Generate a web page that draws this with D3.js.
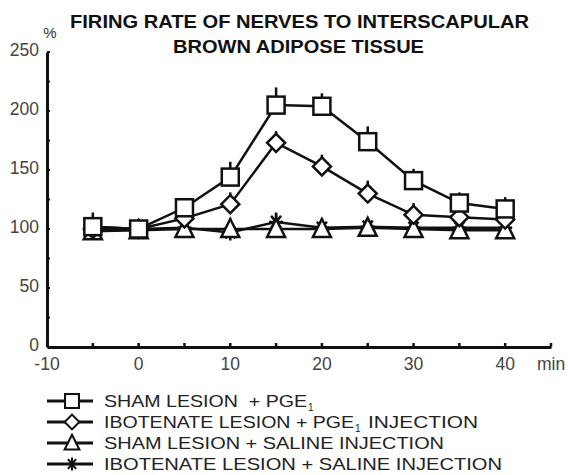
<!DOCTYPE html>
<html>
<head>
<meta charset="utf-8">
<script src="https://cdn.jsdelivr.net/npm/d3@7"></script>
<style>
  body { margin: 0; background: #fff; }
  svg { font-family: "Liberation Sans", Arial, sans-serif; }
</style>
</head>
<body>
<div id="chart"></div>
<script>
// time in minutes
const times = [-5, 0, 5, 10, 15, 20, 25, 30, 35, 40];

// firing rate (% of baseline) and upper error for each group
const shamPge = [102, 100, 118, 144, 205, 204, 174, 141, 122, 117];
const shamPgeErr = [6, 4, 8, 13, 15, 11, 13, 10, 9, 10];
const iboPge = [100, 100, 109, 121, 173, 153, 130, 112, 110, 108];
const iboPgeErr = [4, 3, 5, 10, 10, 10, 11, 10, 6, 6];
const shamSaline = [98, 99, 100, 100, 100, 100, 101, 100, 99, 99];
const shamSalineErr = [3, 3, 3, 4, 3, 3, 3, 3, 3, 3];
const iboSaline = [102, 100, 101, 97, 106, 101, 102, 101, 101, 101];
const iboSalineErr = [12, 4, 4, 12, 8, 8, 5, 6, 6, 6];

const xTicks = [-10, 0, 10, 20, 30, 40];
const yTicks = [0, 50, 100, 150, 200, 250];

const series = [
  { name: 'sham-pge', values: shamPge, err: shamPgeErr, marker: 'square' },
  { name: 'ibo-pge', values: iboPge, err: iboPgeErr, marker: 'diamond' },
  { name: 'sham-saline', values: shamSaline, err: shamSalineErr, marker: 'triangle' },
  { name: 'ibo-saline', values: iboSaline, err: iboSalineErr, marker: 'star' }
];

const W = 568, H = 475;
const svg = d3.select('#chart').append('svg')
  .attr('width', W)
  .attr('height', H);

const x = d3.scaleLinear().domain([-10, 45]).range([47, 551]);
const y = d3.scaleLinear().domain([0, 250]).range([347, 52]);

// marker drawing
function drawMarker(g, type, cx, cy, k = 1) {
  const s = g.append('g').attr('transform', `translate(${cx},${cy}) scale(${k})`)
    .attr('fill', 'none').attr('stroke', '#111').attr('stroke-width', 2.5);
  if (type === 'square') {
    s.append('rect').attr('x', -8.5).attr('y', -8.5).attr('width', 17).attr('height', 17).attr('fill', '#fff');
  } else if (type === 'diamond') {
    s.append('path').attr('d', 'M0,-9L9,0L0,9L-9,0Z').attr('fill', '#fff');
  } else if (type === 'triangle') {
    s.append('path').attr('d', 'M0,-10L9,8L-9,8Z').attr('fill', '#fff');
  } else {
    s.append('path').attr('d', 'M-7,0H7M-5,-6L5,6M5,-6L-5,6M0,-8V8');
  }
}

// titles
svg.append('text').attr('x', 70).attr('y', 28)
  .attr('textLength', 459).attr('lengthAdjust', 'spacingAndGlyphs')
  .attr('font-size', 18.5).attr('font-weight', 'bold').attr('fill', '#111')
  .text('FIRING RATE OF NERVES TO INTERSCAPULAR');
svg.append('text').attr('x', 173).attr('y', 53)
  .attr('textLength', 251).attr('lengthAdjust', 'spacingAndGlyphs')
  .attr('font-size', 18.5).attr('font-weight', 'bold').attr('fill', '#111')
  .text('BROWN ADIPOSE TISSUE');
svg.append('text').attr('x', 50).attr('y', 38).attr('text-anchor', 'middle')
  .attr('font-size', 15).attr('fill', '#333').text('%');

// axes
const yAxis = d3.axisLeft(y).tickValues(d3.range(0, 251, 25)).tickSize(0).tickFormat('');
const xAxis = d3.axisBottom(x).tickValues(d3.range(-10, 46, 5)).tickSize(0).tickFormat('');

const gy = svg.append('g').attr('transform', `translate(${x(-10)},0)`).call(yAxis);
const gx = svg.append('g').attr('transform', `translate(0,${y(0)})`).call(xAxis);
[gy, gx].forEach(g => g.select('.domain').attr('stroke', '#111').attr('stroke-width', 3));

// small tick marks
svg.append('g').selectAll('line').data(d3.range(25, 251, 25)).join('line')
  .attr('x1', x(-10)).attr('x2', x(-10) + 3)
  .attr('y1', d => y(d)).attr('y2', d => y(d))
  .attr('stroke', '#111').attr('stroke-width', 2);
svg.append('g').selectAll('line').data(d3.range(-5, 46, 5)).join('line')
  .attr('x1', d => x(d)).attr('x2', d => x(d))
  .attr('y1', y(0)).attr('y2', y(0) - 4)
  .attr('stroke', '#111').attr('stroke-width', 2.5);

// tick labels
svg.append('g').selectAll('text').data(yTicks).join('text')
  .attr('x', 39).attr('y', d => y(d) - 2).attr('dy', '0.35em')
  .attr('text-anchor', 'end').attr('font-size', 17.5).attr('fill', '#444')
  .text(d => d);
svg.append('g').selectAll('text').data(xTicks).join('text')
  .attr('x', d => x(d)).attr('y', 370)
  .attr('text-anchor', 'middle').attr('font-size', 17.5).attr('fill', '#444')
  .text(d => d);
svg.append('text').attr('x', 537).attr('y', 370)
  .attr('font-size', 17.5).attr('fill', '#444').text('min');

// series
const line = d3.line().x((d, i) => x(times[i])).y(d => y(d));
series.slice().reverse().forEach(s => {
  const g = svg.append('g').attr('class', s.name);
  g.append('path').datum(s.values).attr('d', line)
    .attr('fill', 'none').attr('stroke', '#111').attr('stroke-width', 2.5);
  g.selectAll('line.err').data(s.values).join('line').attr('class', 'err')
    .attr('x1', (d, i) => x(times[i])).attr('x2', (d, i) => x(times[i]))
    .attr('y1', d => y(d)).attr('y2', (d, i) => y(d + s.err[i]))
    .attr('stroke', '#111').attr('stroke-width', 2.5);
  s.values.forEach((v, i) => drawMarker(g, s.marker, x(times[i]), y(v)));
});

// legend: [main text, subscript, rest], with the widths
const legendLabels = [
  ['SHAM LESION\u00a0 + PGE', '1', ''],
  ['IBOTENATE LESION + PGE', '1', 'INJECTION'],
  ['SHAM LESION + SALINE INJECTION', '', ''],
  ['IBOTENATE LESION + SALINE INJECTION', '', '']
];
const legendY = [401, 422, 443, 464];
const legendWidth = [[203, 0], [250, 110], [340, 0], [398, 0]];
series.forEach((s, i) => {
  const ly = legendY[i];
  const g = svg.append('g');
  g.append('line').attr('x1', 47).attr('x2', 93).attr('y1', ly).attr('y2', ly)
    .attr('stroke', '#111').attr('stroke-width', 3);
  drawMarker(g, s.marker, 72, ly, 0.82);
  const [main, sub, rest] = legendLabels[i];
  let tx = 104;
  g.append('text').attr('x', tx).attr('y', ly + 6)
    .attr('font-size', 16.5).attr('fill', '#222')
    .attr('textLength', legendWidth[i][0]).attr('lengthAdjust', 'spacingAndGlyphs')
    .text(main);
  tx += legendWidth[i][0] + 1;
  if (sub) {
    g.append('text').attr('x', tx).attr('y', ly + 10)
      .attr('font-size', 10).attr('fill', '#222').text(sub);
    tx += 13;
  }
  if (rest) {
    g.append('text').attr('x', tx).attr('y', ly + 6)
      .attr('font-size', 16.5).attr('fill', '#222')
      .attr('textLength', legendWidth[i][1]).attr('lengthAdjust', 'spacingAndGlyphs')
      .text(rest);
  }
});
</script>
</body>
</html>
